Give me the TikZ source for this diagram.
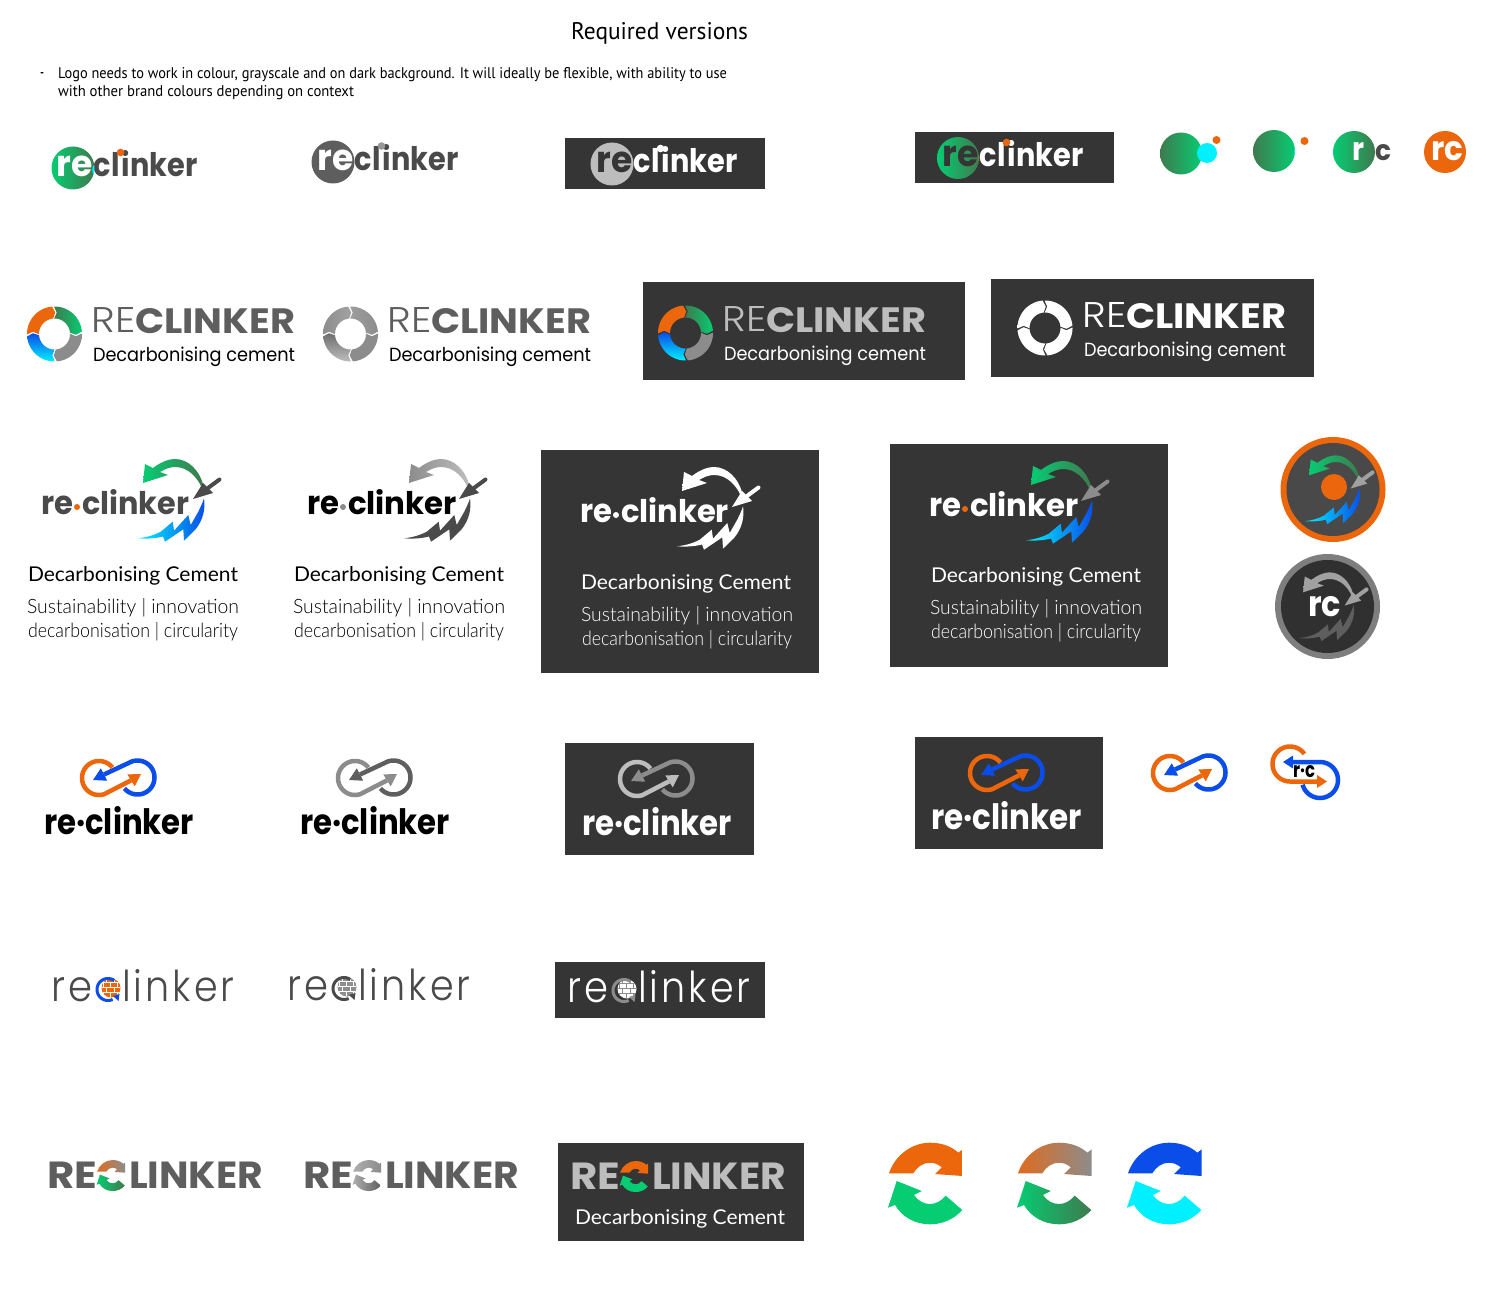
\documentclass[tikz,border=0pt]{standalone}
\usepackage{graphicx}
\usepackage{fontspec}
\setmainfont{Lato}
\newfontfamily\popr{Poppins}
\newfontfamily\popb{Poppins Bold}
\newfontfamily\popl{Poppins Light}
\newfontfamily\ptsans{PT Sans}
\newfontfamily\latol{Lato Light}
\definecolor{panel}{HTML}{353535}
\definecolor{ora}{HTML}{EC660C}
\definecolor{grn}{HTML}{06CC72}
\definecolor{dgrn}{HTML}{3F7A4E}
\definecolor{blu}{HTML}{0A4DE8}
\definecolor{cya}{HTML}{00F0FF}
\definecolor{word}{HTML}{4A4A4A}
\definecolor{wgrey}{HTML}{5E5E5E}
\definecolor{mgrey}{HTML}{8C8C8C}
\definecolor{lgrey}{HTML}{BDBDBD}
\newdimen\mypx \mypx=.75pt
\newcount\txc
% x, baseline y, width, height, colour, text
\newcommand\tx[6]{\global\advance\txc by 1
  \node[inner sep=0pt,outer sep=0pt,anchor=base west,text=#5] (t\the\txc) at (#1,#2) {\resizebox{#3\mypx}{#4\mypx}{#6}};}
\newcommand\arcp[5]{plot[domain=#4:#5,samples=40,variable=\t] ({#1+#3*cos(\t)},{#2+#3*sin(\t)})}
\newcommand\arcl[5]{-- plot[domain=#4:#5,samples=40,variable=\t] ({#1+#3*cos(\t)},{#2+#3*sin(\t)})}
\newcommand\disc[4]{\fill[#4] (#1,#2) circle[radius=#3];}
\newcommand\panelbox[4]{\fill[panel] (#1,#2) rectangle (#3,#4);}
% ---- row 1 word mark: dx dy recolor clinkcolor
\newcommand\wmark[4]{\tx{56.5+#1}{177+#2}{36}{20.5}{#3}{\popb re}\tx{93+#1}{177+#2}{104.5}{26}{#4}{\popb c\kern.05em l\kern.05em inker}}
% ---- ring segment, clockwise on the picture
\newcommand\ringseg[3]{\pgfmathsetmacro\angA{#1+1}\pgfmathsetmacro\angB{#1+87}\pgfmathsetmacro\angC{#1+94}\pgfmathsetmacro\angD{#1+8}
  \shade[#2] \arcp{0}{0}{27.5}{\angA}{\angB} -- (\angC:#3) \arcl{0}{0}{15.5}{\angB}{\angA} -- (\angD:#3) -- cycle;}
\newcommand\ringlogo[6]{\begin{scope}[shift={(#1,#2)}]
  \ringseg{178}{#3}{21.5}\ringseg{-92}{#4}{21.5}\ringseg{-2}{#5}{21.5}\ringseg{88}{#6}{21.5}\end{scope}}
\newcommand\rectext[5]{\tx{91.5+#1}{333+#2}{44}{25}{#3}{\popl RE}\tx{135+#1}{333+#2}{160}{25}{#4}{\popb CLINKER}\tx{93+#1}{361+#2}{202}{14.5}{#5}{\popr Decarbonising cement}}
% ---- swirl, bolt and trowel icon
\newcommand\swirlicon[6]{\begin{scope}[#1]
  \shade[left color=#5,right color=#6] (138.3,538.3) .. controls (146,537.5) and (155,535) .. (161,531.5) -- (172.7,521.7) -- (174,530.7) -- (188.3,515) -- (190.7,525) -- (198.3,511.7) .. controls (201,506) and (203,502) .. (204,498.3) .. controls (205.5,508) and (203.5,520) .. (195,530) -- (184,540.7) -- (183.3,529.3) -- (165,541.7) -- (163,536.5) .. controls (155,538.5) and (147,539) .. (138.3,538.3) -- cycle;
  \shade[#2] (145,464) -- (153,468) .. controls (162,461) and (170,459) .. (175,459) .. controls (188,459) and (199,470) .. (203,484) -- (202,488) .. controls (197,477) and (188,467) .. (175,467) .. controls (170,467) and (165,469) .. (160,472) -- (168,475) -- (143,483) -- cycle;
  \fill[#3] (203,483) -- (213,493) -- (193,499) -- cycle;
  \draw[#4,line width=4\mypx,line cap=round] (208,488) -- (219.5,479.5);
\end{scope}}
\newcommand\sublines[5]{\tx{28+#1}{581+#2}{210}{15}{#3}{Decarbonising Cement}\tx{27+#4}{613+#2}{212}{15}{#5}{\latol Sustainability | innovation}\tx{28+#4}{637+#2}{210}{15}{#5}{\latol decarbonisation | circularity}}
% ---- infinity arrows
\newcommand\infin[4]{\begin{scope}[shift={(#1,#2)}]
  \draw[#4,line width=4.5\mypx] (104,774.5) -- (129,762.8) \arcl{137.5}{777.5}{17}{-120}{140};
  \fill[#4] (93,780) -- (100.8,768.3) -- (107.2,780.7) -- cycle;
  \draw[#3,line width=4.5\mypx] \arcp{99}{778}{17}{-38}{-288} -- (131,780.4);
  \fill[#3] (141,774) -- (127.3,774.4) -- (134.7,786.3) -- cycle;
\end{scope}}
% ---- brick ball
\newcommand\brick[5]{\begin{scope}[shift={(#1,#2)}]
  \fill[#4] (111,988) circle[radius=9.5];
  \begin{scope}\clip (111,988) circle[radius=9.5];
    \foreach \yy in {982,987,992}{\draw[#5,line width=.8\mypx] (100,\yy) -- (122,\yy);}
    \foreach \xv/\yv in {106/978,114/978,103/982,110/982,117/982,106/987,114/987,103/992,110/992,117/992}{\draw[#5,line width=.8\mypx] (\xv,\yv) -- (\xv,\yv+5);}
  \end{scope}
  \draw[#3,line width=3\mypx] \arcp{108}{989.5}{11}{-55}{-295};
  \fill[#3] (113,996) -- (119.5,994) -- (118.5,1001) -- cycle;
\end{scope}}
\newcommand\brword[3]{\tx{51.5+#1}{1001+#2}{41}{24}{#3}{\popl\addfontfeature{LetterSpace=8}re}\tx{122+#1}{1001+#2}{112.5}{32}{#3}{\popl\addfontfeature{LetterSpace=8}linker}}
% ---- two-arrow C icon
\newcommand\cicon[3]{\begin{scope}[#1]
  \shade[#2] (889,1173.3) .. controls (895,1155) and (912,1142.7) .. (930,1142.7) .. controls (941,1142.7) and (951,1146) .. (958.3,1152.7) -- (962.7,1149.3) -- (962.7,1176) -- (935,1174) -- (941.7,1167.3) .. controls (938,1164) and (934,1162.7) .. (930,1162.7) .. controls (923,1162.7) and (917,1167) .. (913.3,1173.3) -- cycle;
  \shade[#3] (896.7,1181) -- (921.7,1191) -- (914,1195) .. controls (918,1201) and (924,1204) .. (930,1204) .. controls (936,1204) and (941,1201) .. (945.7,1195.7) -- (962.3,1210) .. controls (954,1219) and (943,1224.3) .. (930,1224.3) .. controls (915,1224.3) and (902,1217) .. (895,1205) -- (888,1207.7) -- cycle;
\end{scope}}
\newcommand\capword[3]{\tx{47.5+#1}{1188+#2}{50}{26.5}{#3}{\popb RE}\tx{129+#1}{1188+#2}{134}{26.5}{#3}{\popb LINKER}}
\tikzset{
  cg/.style={left color=grn,right color=dgrn},
  gc/.style={left color=dgrn,right color=grn},
  so/.style={left color=#1,right color=#1},
  ogt/.style={left color=ora!85!mgrey,right color=mgrey},
}
\begin{document}
\begin{tikzpicture}[x=.75pt,y=-.75pt]
\useasboundingbox (0,0) rectangle (1501,1312);
\fill[white] (0,0) rectangle (1501,1312);
% header
\tx{571}{40}{177}{17}{black}{\ptsans Required versions}
\tx{40}{79}{4}{6}{black}{\ptsans -}
\tx{58}{79}{669}{11}{black}{\ptsans Logo needs to work in colour, grayscale and on dark background. It will ideally be flexible, with ability to use}
\tx{58}{97}{296}{11}{black}{\ptsans with other brand colours depending on context}
% ===== row 1
\shade[cg] (73,168) circle[radius=21.5];
\wmark{0}{0}{white}{word}
\begin{scope}\clip (73,168) circle[radius=21.5];\draw[cya,line width=3.5\mypx] (101,170) circle[radius=7];\end{scope}
\disc{120.5}{152.5}{3.8}{ora}
\fill[wgrey] (333,162) circle[radius=21.5];
\wmark{261}{-6.5}{white}{word}
\disc{381.5}{146}{3.8}{lgrey!80!black}
\panelbox{565}{138}{765}{189}
\fill[lgrey] (612,164) circle[radius=21.5];
\wmark{540}{-4}{panel}{white}
\disc{660.5}{148.5}{3.8}{white}
\panelbox{915}{132}{1114}{183}
\shade[cg] (958,158) circle[radius=21];
\wmark{886}{-10}{panel}{white}
\begin{scope}\clip (958,158) circle[radius=21];\draw[ora,line width=3.5\mypx] (987,160) circle[radius=7];\end{scope}
\disc{1006.5}{142.5}{3.8}{ora}
\shade[gc] (1181,153.5) circle[radius=21];
\disc{1207}{153}{10}{cya}
\disc{1216.5}{140}{4}{ora}
\shade[gc] (1274,151) circle[radius=21];
\begin{scope}\clip (1274,151) circle[radius=21];\disc{1305}{152}{11}{cya}\end{scope}
\disc{1304.5}{141}{4}{ora}
\shade[cg] (1354,152) circle[radius=21];
\tx{1352}{161}{12}{18}{white}{\popb r}
\tx{1375}{161}{16}{16}{word}{\popb c}
\begin{scope}\clip (1354,152) circle[radius=21];\draw[cya,line width=3\mypx] (1384,153) circle[radius=7];\end{scope}
\disc{1445}{152}{21}{ora}
\tx{1431}{161}{32}{19}{white}{\popb rc}
% ===== row 2
\ringlogo{54.5}{334}{so=ora}{gc}{so=mgrey}{top color=blu,bottom color=cya}
\rectext{0}{0}{wgrey}{wgrey}{black}
\ringlogo{350.5}{334}{left color=mgrey,right color=mgrey!80}{left color=mgrey!85,right color=mgrey}{so=mgrey}{top color=wgrey!90,bottom color=lgrey}
\rectext{296}{0}{wgrey}{wgrey}{black}
\panelbox{643}{282}{965}{380}
\ringlogo{685.5}{333}{so=ora}{gc}{so=mgrey}{top color=blu,bottom color=cya}
\rectext{631}{-1}{lgrey}{lgrey}{white}
\panelbox{991}{279}{1314}{377}
\ringlogo{1045}{328}{so=white}{so=white}{so=white}{so=white}
\rectext{991}{-5}{white}{white}{white}
% ===== row 3
\swirlicon{shift={(0,0)}}{left color=grn,right color=dgrn}{word}{word}{cya}{blu}
\tx{41}{514}{32}{18.5}{word}{\popb re}\disc{77}{507}{3}{ora}
\tx{82}{514}{107}{25}{word}{\popb clinker}
\sublines{0}{0}{black}{0}{black}
\swirlicon{shift={(266,0)}}{left color=mgrey,right color=lgrey}{word}{word}{word}{word}
\tx{307}{514}{32}{18.5}{black}{\popb re}\disc{343}{507}{3}{mgrey}
\tx{348}{514}{109}{25}{black}{\popb clinker}
\sublines{266}{0}{black}{266}{black}
\panelbox{541}{450}{819}{673}
\swirlicon{shift={(539,8)}}{so=white}{white}{white}{white}{white}
\tx{580}{522}{32}{18.5}{white!85}{\popb re}\disc{616}{515}{3}{white}
\tx{621}{522}{108}{25}{white!85}{\popb clinker}
\sublines{553}{8}{white}{554}{white!85}
\panelbox{890}{444}{1168}{667}
\swirlicon{shift={(888,2)}}{cg}{mgrey}{mgrey}{cya}{blu}
\tx{929}{516}{32}{18.5}{white}{\popb re}\disc{965}{509}{3}{ora}
\tx{970}{516}{109}{25}{white}{\popb clinker}
\sublines{903}{1}{white}{903}{white!85}
% circles
\fill[ora] (1333,489.5) circle[radius=52.5];
\fill[panel!90!white] (1333,489.5) circle[radius=46.5];
\disc{1334}{487}{13}{ora}
\swirlicon{shift={(1190.4,74.4)},scale=.83}{cg}{lgrey!85!black}{lgrey!85!black}{cya}{blu}
\fill[mgrey!90!black] (1327.5,606.5) circle[radius=52.5];
\fill[panel!90!black] (1327.5,606.5) circle[radius=46.5];
\swirlicon{shift={(1184.4,191.4)},scale=.83}{so=lgrey!85!black}{lgrey!85!black}{lgrey!85!black}{wgrey}{wgrey}
\tx{1308}{616}{33}{20}{white}{\popb rc}
% ===== row 4
\infin{0}{0}{ora}{blu}
\tx{44}{834}{150}{28}{black}{\popb re·clinker}
\infin{256}{0}{mgrey}{wgrey}
\tx{300}{834}{150}{28}{black}{\popb re·clinker}
\panelbox{565}{743}{754}{855}
\infin{538}{1}{lgrey}{mgrey}
\tx{582}{835}{150}{28}{white!90}{\popb re·clinker}
\panelbox{915}{737}{1103}{849}
\infin{888}{-5}{ora}{blu}
\tx{931}{829}{151}{28}{white}{\popb re·clinker}
\infin{1071}{-5}{ora}{blu}
% r.c
\draw[blu,line width=4.5\mypx] (1290,762) -- (1320,762) \arcl{1320}{780}{18}{-90}{165};
\fill[blu] (1283,762) -- (1293,755.5) -- (1293,768.5) -- cycle;
\draw[ora,line width=4.5\mypx] \arcp{1290}{764}{17.5}{-35}{-270} -- (1318,781.5);
\fill[ora] (1327,781.5) -- (1317,775) -- (1317,788) -- cycle;
\tx{1293}{777}{22}{12}{black}{\popb r·c}
% ===== row 5
\brword{0}{0}{word}
\brick{0}{0}{blu}{ora}{white}
\brword{236}{-1}{word}
\brick{236}{-1}{word}{wgrey!70}{white}
\panelbox{555}{962}{765}{1018}
\brword{516}{1}{white}
\brick{516}{1}{mgrey}{white}{mgrey}
% ===== row 6
\capword{0}{0}{wgrey}
\cicon{shift={(-240.8,725.8)},scale=.38}{ogt}{left color=grn,right color=dgrn}
\capword{256}{0}{wgrey}
\cicon{shift={(15.2,725.8)},scale=.38}{left color=mgrey!70,right color=mgrey}{left color=mgrey!70,right color=wgrey}
\panelbox{558}{1143}{804}{1241}
\capword{523}{1}{lgrey}
\cicon{shift={(282.2,726.8)},scale=.38}{so=ora}{so=grn}
\tx{575}{1224}{210}{15}{white}{Decarbonising Cement}
\cicon{shift={(0,0)}}{so=ora}{so=grn}
\cicon{shift={(129,0)}}{ogt}{cg}
\cicon{shift={(239,0)}}{so=blu}{so=cya}
\end{tikzpicture}
\end{document}
